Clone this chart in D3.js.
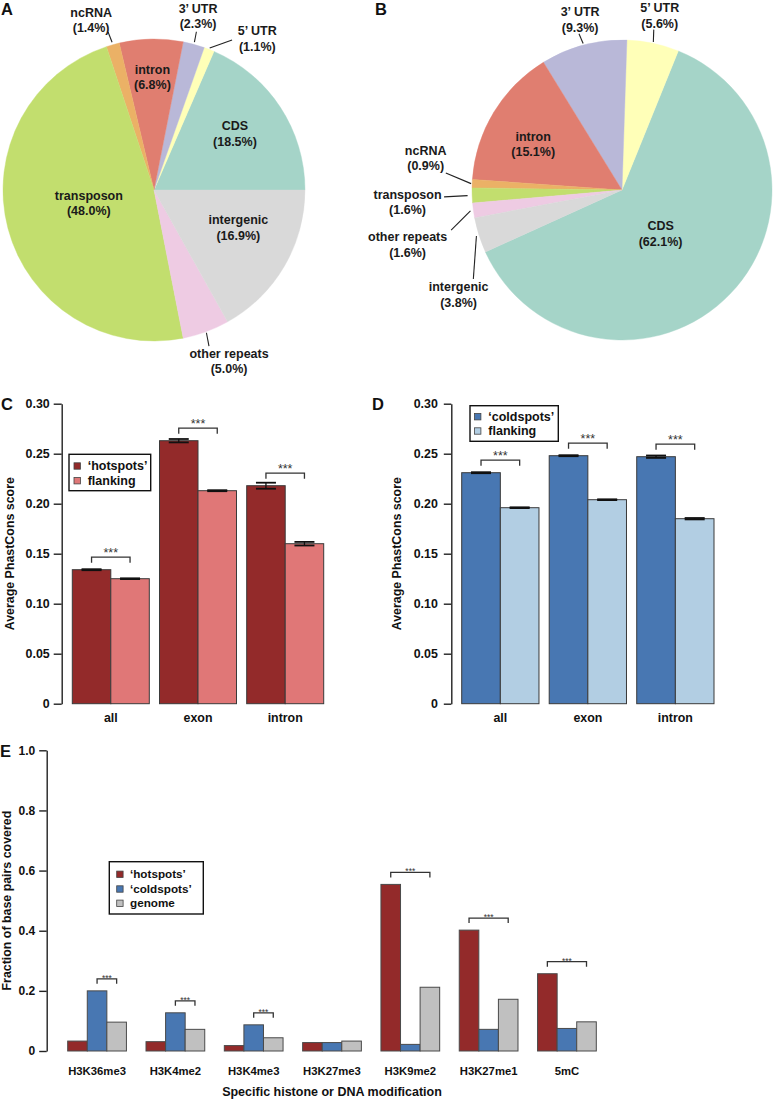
<!DOCTYPE html>
<html><head><meta charset="utf-8">
<script src="https://cdn.jsdelivr.net/npm/d3@7"></script>
<style>
body{margin:0;background:#fff;}
svg{display:block;font-family:"Liberation Sans",Arial,Helvetica,sans-serif;}
</style></head><body>
<svg id="fig" width="774" height="1100"></svg>
<script>
// ---------------- DATA ----------------
const pieCategories = ["CDS","5\u2019 UTR","3\u2019 UTR","intron","ncRNA","transposon","other repeats","intergenic"];
const pieColors = ["#a5d4c8","#ffffb8","#b9b8d8","#e07e70","#ebb166","#c2de6e","#eecbe3","#d9d9d9"];
const pieAValues = [18.5,1.1,2.3,6.8,1.4,48.0,5.0,16.9];
const pieBValues = [62.1,5.6,9.3,15.1,0.9,1.6,1.6,3.8];

const regionCategories = ["all","exon","intron"];
const hotspotScores   = [0.134,0.263,0.218];
const hotspotErrors   = [0.0005,0.0017,0.003];
const hotFlankScores  = [0.125,0.213,0.160];
const hotFlankErrors  = [0.0004,0.0005,0.0018];
const coldspotScores  = [0.231,0.248,0.247];
const coldspotErrors  = [0.0005,0.0005,0.0012];
const coldFlankScores = [0.196,0.204,0.185];
const coldFlankErrors = [0.0004,0.0004,0.0007];
const phastTicks = [0,0.05,0.10,0.15,0.20,0.25,0.30];
const phastSignificance = [[0,1],[0,1],[0,1]];

const modCategories = ["H3K36me3","H3K4me2","H3K4me3","H3K27me3","H3K9me2","H3K27me1","5mC"];
const modHotspots  = [0.033,0.031,0.018,0.028,0.554,0.402,0.257];
const modColdspots = [0.200,0.127,0.087,0.028,0.022,0.072,0.075];
const modGenome    = [0.096,0.072,0.044,0.033,0.212,0.172,0.097];
const modTicks = [0,0.2,0.4,0.6,0.8,1.0];
const modSignificance = [[1,2],[1,2],[1,2],null,[0,2],[0,2],[0,2]];

const COL = {hot:"#932a2a", hotFlank:"#e07777", cold:"#4877b2", coldFlank:"#b2cee3", genome:"#c0c0c0"};

// ---------------- HELPERS ----------------
const svg = d3.select("#fig");
const rad = d => d*Math.PI/180;
const polar = (cx,cy,a,d) => [cx + d*Math.cos(rad(a)), cy - d*Math.sin(rad(a))];

function panelLetter(txt,x,y){
  svg.append("text").attr("x",x).attr("y",y).text(txt)
    .style("font-size","16.5px").style("font-weight","bold").attr("fill","#111");
}

function drawPie(values, cx, cy, r, startDeg, labels){
  const g = svg.append("g");
  const pie = d3.pie().sort(null).value(d=>d)
    .startAngle(rad(90-startDeg)).endAngle(rad(90-startDeg-360));
  const arcs = pie(values);
  const arc = d3.arc().innerRadius(0).outerRadius(r);
  g.append("g").attr("transform",`translate(${cx},${cy})`)
    .selectAll("path").data(arcs).join("path")
    .attr("d",arc).attr("fill",(d,i)=>pieColors[i])
    .attr("stroke",(d,i)=>pieColors[i]).attr("stroke-width",0.4);
  labels.forEach(L=>{
    const d = arcs[L.i];
    const mid = 90 - (d.startAngle+d.endAngle)/2*180/Math.PI;
    if(L.lead){
      const p0 = polar(cx,cy,mid,r*L.lead[0]);
      const p1 = polar(cx,cy,L.lead[1],r*L.lead[2]);
      g.append("line").attr("x1",p0[0]).attr("y1",p0[1]).attr("x2",p1[0]).attr("y2",p1[1])
        .attr("stroke","#222").attr("stroke-width",1.1);
    }
    const [tx,ty] = polar(cx,cy,L.a,r*L.rf);
    const t = g.append("text").attr("text-anchor","middle")
      .style("font-size","12.5px").style("font-weight","bold").attr("fill","#1a1a1a");
    t.append("tspan").attr("x",tx).attr("y",ty-7.7+4.4).text(pieCategories[L.i]);
    t.append("tspan").attr("x",tx).attr("y",ty+7.7+4.4).text(`(${values[L.i].toFixed(1)}%)`);
  });
}

function drawBars(c){
  const g = svg.append("g");
  const x0 = d3.scaleBand().domain(c.cats).range(c.xRange).paddingInner(c.pad).paddingOuter(0);
  const x1 = d3.scaleBand().domain(d3.range(c.series.length)).range([0,x0.bandwidth()]);
  const y = d3.scaleLinear().domain([0,c.yMax]).range(c.yRange);
  // bars
  c.series.forEach((s,si)=>{
    g.append("g").selectAll("rect").data(s.values).join("rect")
      .attr("x",(v,i)=>x0(c.cats[i])+x1(si))
      .attr("y",v=>y(v))
      .attr("width",x1.bandwidth())
      .attr("height",v=>y(0)-y(v))
      .attr("fill",s.color).attr("stroke",c.barStroke).attr("stroke-width",1);
    if(s.errors){
      const eg = g.append("g").attr("stroke","#111");
      s.values.forEach((v,i)=>{
        const cx = x0(c.cats[i])+x1(si)+x1.bandwidth()/2;
        const e = s.errors[i];
        eg.append("line").attr("x1",cx).attr("x2",cx).attr("y1",y(v-e)).attr("y2",y(v+e)).attr("stroke-width",1.3);
        [v-e,v+e].forEach(val=>{
          eg.append("line").attr("x1",cx-c.capHalf).attr("x2",cx+c.capHalf)
            .attr("y1",y(val)).attr("y2",y(val)).attr("stroke-width",1.8);
        });
      });
    }
  });
  // significance brackets
  c.sig.forEach((pair,i)=>{
    if(!pair) return;
    const xa = x0(c.cats[i])+x1(pair[0])+x1.bandwidth()/2;
    const xb = x0(c.cats[i])+x1(pair[1])+x1.bandwidth()/2;
    const top = d3.min(c.series.map(s=>y(s.values[i]))) - c.bracketGap;
    g.append("path").attr("d",`M${xa},${top+c.leg}V${top}H${xb}V${top+c.leg}`)
      .attr("fill","none").attr("stroke","#333").attr("stroke-width",1.3);
    g.append("text").attr("x",(xa+xb)/2).attr("y",top+c.starDy).attr("text-anchor","middle")
      .style("font-size",c.starSize+"px").attr("fill","#333").text("***");
  });
  // y axis
  const ax = g.append("g").attr("transform",`translate(${c.axisX},0)`)
    .call(d3.axisLeft(y).tickValues(c.ticks).tickSize(c.tickSize).tickSizeOuter(0)
      .tickPadding(c.tickPad).tickFormat(c.fmt));
  ax.select(".domain").attr("stroke","#222").attr("stroke-width",1.4);
  ax.selectAll(".tick line").attr("stroke","#222").attr("stroke-width",1.4);
  ax.selectAll(".tick text").attr("fill","#111")
    .style("font-size",c.tickFont+"px").style("font-weight","bold")
    .style("font-family","'Liberation Sans',Arial,sans-serif");
  // x labels
  g.append("g").selectAll("text").data(c.cats).join("text")
    .attr("x",d=>x0(d)+x0.bandwidth()/2).attr("y",c.xLabY).attr("text-anchor","middle")
    .style("font-size",c.xLabFont+"px").style("font-weight","bold").attr("fill","#111").text(d=>d);
  // y title
  const ym = (c.yRange[0]+c.yRange[1])/2;
  g.append("text").attr("transform",`translate(${c.yTitleX},${ym}) rotate(-90)`)
    .attr("text-anchor","middle").style("font-size","12.4px").style("font-weight","bold")
    .attr("fill","#111").text(c.yTitle);
  if(c.xTitle){
    g.append("text").attr("x",(c.xRange[0]+c.xRange[1])/2).attr("y",c.xTitleY)
      .attr("text-anchor","middle").style("font-size","12.5px").style("font-weight","bold")
      .attr("fill","#111").text(c.xTitle);
  }
  // legend
  const L = c.legend;
  const lg = g.append("g").attr("transform",`translate(${L.x},${L.y})`);
  lg.append("rect").attr("width",L.w).attr("height",L.h).attr("fill","#fff")
    .attr("stroke","#111").attr("stroke-width",1.4);
  c.series.forEach((s,si)=>{
    const ry = L.rows[si];
    lg.append("rect").attr("x",L.sqX).attr("y",ry-3.2).attr("width",6.4).attr("height",6.4)
      .attr("fill",s.color).attr("stroke","#444").attr("stroke-width",0.8);
    lg.append("text").attr("x",L.textX).attr("y",ry+L.font*0.36)
      .style("font-size",L.font+"px").style("font-weight","bold").attr("fill","#111").text(s.name);
  });
}

// ---------------- PANEL A / B : pies ----------------
panelLetter("A",1,15);
drawPie(pieAValues,154,190,151,0,[
  {i:0,a:34.8,rf:0.653},
  {i:1,a:55.7,rf:1.214,lead:[1.01,62.5,1.12]},
  {i:2,a:75.8,rf:1.19,lead:[1.015,75.0,1.085]},
  {i:3,a:90.8,rf:0.747},
  {i:4,a:110.3,rf:1.2,lead:[1.017,106.2,1.09]},
  {i:5,a:191.3,rf:0.44},
  {i:6,a:293.7,rf:1.237,lead:[1.007,289.4,1.096]},
  {i:7,a:335.9,rf:0.612}
]);
panelLetter("B",375,15);
drawPie(pieBValues,622,190,150,-155.6,[
  {i:0,a:311.4,rf:0.389},
  {i:1,a:77.8,rf:1.19,lead:[1.009,78.8,1.09]},
  {i:2,a:103.8,rf:1.17,lead:[1.01,105.4,1.08]},
  {i:3,a:152.6,rf:0.667},
  {i:4,a:170.8,rf:1.326,lead:[1.007,174.5,1.18]},
  {i:5,a:183.2,rf:1.432,lead:[1.03,182.2,1.187]},
  {i:6,a:194.3,rf:1.475,lead:[1.02,193.2,1.17]},
  {i:7,a:212.6,rf:1.293,lead:[1.018,210.9,1.155]}
]);

// ---------------- PANEL C / D ----------------
const phastFmt = d => d===0 ? "0" : d3.format(".2f")(d);
panelLetter("C",1,410);
drawBars({
  cats:regionCategories,
  series:[{name:"\u2018hotspots\u2019",values:hotspotScores,errors:hotspotErrors,color:COL.hot},
          {name:"flanking",values:hotFlankScores,errors:hotFlankErrors,color:COL.hotFlank}],
  xRange:[72.3,323.7], pad:0.117, yMax:0.30, yRange:[703.7,403.7],
  ticks:phastTicks, fmt:phastFmt, axisX:61.7, tickSize:8, tickPad:4, tickFont:12.4,
  barStroke:"#3a3a3a", capHalf:10, sig:phastSignificance, bracketGap:12.5, leg:5.5, starDy:-0.6, starSize:12.5,
  xLabY:722, xLabFont:12.4, yTitle:"Average PhastCons score", yTitleX:14.3,
  legend:{x:69,y:454.3,w:81.7,h:36.4,rows:[11.7,26.4],sqX:5,textX:18.7,font:12.5}
});
panelLetter("D",372,410);
drawBars({
  cats:regionCategories,
  series:[{name:"\u2018coldspots\u2019",values:coldspotScores,errors:coldspotErrors,color:COL.cold},
          {name:"flanking",values:coldFlankScores,errors:coldFlankErrors,color:COL.coldFlank}],
  xRange:[461.7,714], pad:0.117, yMax:0.30, yRange:[703.7,403.7],
  ticks:phastTicks, fmt:phastFmt, axisX:451.3, tickSize:7.5, tickPad:6, tickFont:12.4,
  barStroke:"#3a3a3a", capHalf:10, sig:phastSignificance, bracketGap:12.5, leg:5.5, starDy:-0.6, starSize:12.5,
  xLabY:722, xLabFont:12.4, yTitle:"Average PhastCons score", yTitleX:401,
  legend:{x:470,y:405.7,w:88.3,h:35.6,rows:[11,25.3],sqX:4.5,textX:18.3,font:12.5}
});

// ---------------- PANEL E ----------------
panelLetter("E",0,757);
drawBars({
  cats:modCategories,
  series:[{name:"\u2018hotspots\u2019",values:modHotspots,color:COL.hot},
          {name:"\u2018coldspots\u2019",values:modColdspots,color:COL.cold},
          {name:"genome",values:modGenome,color:COL.genome}],
  xRange:[67.7,596.3], pad:0.25, yMax:1.0, yRange:[1051,750.3],
  ticks:modTicks, fmt:d=> d===0 ? "0" : d3.format(".1f")(d), axisX:46.7, tickSize:7.5, tickPad:4, tickFont:12,
  barStroke:"#4a4a4a", capHalf:0, sig:modSignificance, bracketGap:12, leg:5, starDy:1.8, starSize:8.5,
  xLabY:1075, xLabFont:11.3, yTitle:"Fraction of base pairs covered", yTitleX:11,
  xTitle:"Specific histone or DNA modification", xTitleY:1096,
  legend:{x:109.3,y:861.7,w:94,h:52.3,rows:[12.6,27.3,41.6],sqX:7.4,textX:20.7,font:11.7}
});
</script>
</body></html>
